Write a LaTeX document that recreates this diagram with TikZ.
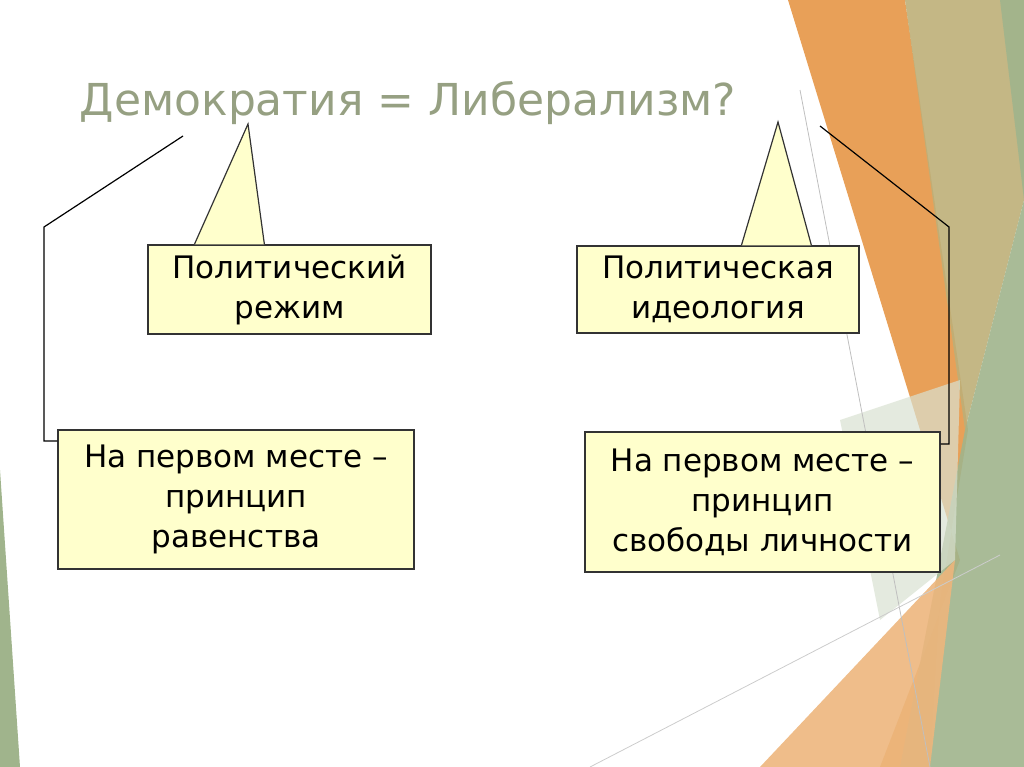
\documentclass[tikz,border=0pt]{standalone}
\usepackage{fontspec}
\setmainfont{DejaVu Sans}
\usetikzlibrary{positioning,calc}
\definecolor{boxfill}{RGB}{255,255,204}
\definecolor{titlegray}{RGB}{150,160,130}
\definecolor{bgorange}{RGB}{230,150,70}
\definecolor{bggreen}{RGB}{160,180,140}
\definecolor{bgolive}{RGB}{190,175,120}
\begin{document}
\begin{tikzpicture}[x=1pt,y=-1pt, line width=1.2pt,
  textbox/.style={draw=black!80, fill=boxfill, inner sep=0pt, align=center, font=\fontsize{31}{40}\selectfont},
  pointer/.style={draw=black!80, fill=boxfill, line join=miter}]
\useasboundingbox (0,0) rectangle (1024,767);

% Background
\fill[bgorange, opacity=0.9] (788,0) -- (905,0) -- (968,430) -- (940,600) -- (930,767) -- (880,767) -- (960,560) -- cycle;
\fill[bgolive, opacity=0.9] (905,0) -- (1024,0) -- (1024,200) -- (965,430) -- cycle;
\fill[bggreen, opacity=0.9] (1000,0) -- (1024,0) -- (1024,767) -- (900,767) -- (965,430) -- (1024,200) -- cycle;
\fill[bgorange!70, opacity=0.9] (760,767) -- (955,560) -- (930,767) -- cycle;
\fill[bggreen!40, opacity=0.7] (840,420) -- (960,380) -- (955,560) -- (880,620) -- cycle;
\fill[bggreen] (0,470) -- (20,767) -- (0,767) -- cycle;
\draw[gray!50, line width=0.8pt] (800,90) -- (930,767);
\draw[gray!40, line width=0.8pt] (590,767) -- (1000,555);

% Title
\node[font=\fontsize{44}{50}\selectfont, text=titlegray, anchor=west] (title) at (76,103) {Демократия = Либерализм?};

% Boxes
\node[textbox, minimum width=283, minimum height=89] (regime) at (289.5,289.5) {Политический\\режим};
\node[textbox, minimum width=282, minimum height=87] (ideology) at (718,289.5) {Политическая\\идеология};
\node[textbox, minimum width=356, minimum height=139] (equality) at (236,499.5) {На первом месте –\\принцип\\равенства};
\node[textbox, minimum width=355, minimum height=140] (freedom) at (762.5,502) {На первом месте –\\принцип\\свободы личности};

% Pointers
\draw[pointer] ($(regime.north west)+(47,0)$) -- (248,124) -- ($(regime.north west)+(117,0)$);
\draw[pointer] ($(ideology.north west)+(165,0)$) -- (778,122) -- ($(ideology.north west)+(235,0)$);

% Brackets
\coordinate (lefttop) at (183,136);
\coordinate (righttop) at (820,126);
\draw (lefttop) -- (44,227) -- (44,441) -- (equality.west |- 0,441);
\draw (righttop) -- (949,227) -- (949,444) -- (freedom.east |- 0,444);
\end{tikzpicture}
\end{document}
